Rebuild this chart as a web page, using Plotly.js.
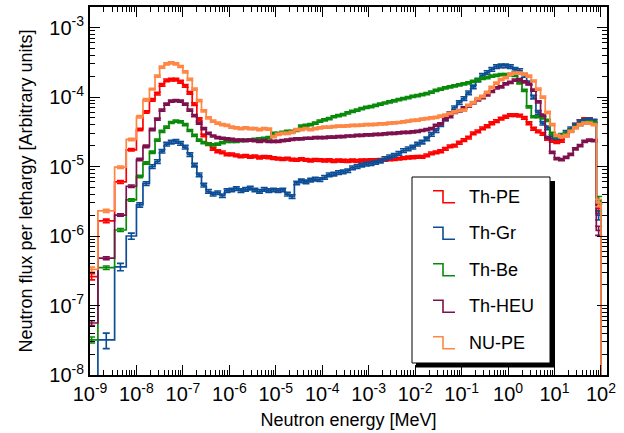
<!DOCTYPE html>
<html><head><meta charset="utf-8">
<script src="https://cdn.plot.ly/plotly-3.0.1.min.js"></script>
<style>html,body{margin:0;padding:0;background:#fff}#chart{width:624px;height:433px}</style>
</head><body><div id="chart"></div>
<script>
// ---- data ----
const seriesNames  = ['Th-PE', 'Th-Gr', 'Th-Be', 'Th-HEU', 'NU-PE'];
const seriesColors = ['#ff0000', '#0c4d96', '#0a8a0a', '#7e104e', '#ff8745'];

// bin edges, log10(E / MeV)
const logEdges = [-9.1, -8.83, -8.47, -8.22, -8.0, -7.86, -7.72,
  -7.6,-7.5,-7.4,-7.3,-7.2,-7.1,-7.0,-6.9,-6.8,-6.7,-6.6,-6.5,-6.4,-6.3,-6.2,-6.1,
  -6.0,-5.9,-5.8,-5.7,-5.6,-5.5,-5.4,-5.3,-5.2,-5.1,
  -5.0,-4.9,-4.8,-4.7,-4.6,-4.5,-4.4,-4.3,-4.2,-4.1,
  -4.0,-3.9,-3.8,-3.7,-3.6,-3.5,-3.4,-3.3,-3.2,-3.1,
  -3.0,-2.9,-2.8,-2.7,-2.6,-2.5,-2.4,-2.3,-2.2,-2.1,
  -2.0,-1.9,-1.8,-1.7,-1.6,-1.5,-1.4,-1.3,-1.2,-1.1,
  -1.0,-0.9,-0.8,-0.7,-0.6,-0.5,-0.4,-0.3,-0.2,-0.1,
  0.0,0.1,0.2,0.3,0.4,0.5,0.6,0.7,0.8,0.9,
  1.0,1.1,1.2,1.3,1.4,1.5,1.6,1.7,1.8,1.9,2.0];

const fluxThPE = [2.6e-7,1.65e-6,6.0e-6,1.74e-5,3.4e-5,6.1e-5,9.1e-5,
  1.12e-4,1.5e-4,1.74e-4,1.78e-4,1.78e-4,1.66e-4,1.45e-4,1.15e-4,7.9e-5,4.8e-5,2.8e-5,2.1e-5,1.8e-5,1.66e-5,1.6e-5,1.5e-5,
  1.5e-5,1.45e-5,1.4e-5,1.42e-5,1.38e-5,1.4e-5,1.35e-5,1.38e-5,1.36e-5,1.32e-5,
  1.3e-5,1.28e-5,1.3e-5,1.26e-5,1.25e-5,1.28e-5,1.25e-5,1.22e-5,1.25e-5,1.24e-5,
  1.22e-5,1.23e-5,1.2e-5,1.22e-5,1.21e-5,1.2e-5,1.22e-5,1.2e-5,1.22e-5,1.22e-5,
  1.23e-5,1.24e-5,1.25e-5,1.25e-5,1.27e-5,1.28e-5,1.3e-5,1.32e-5,1.35e-5,1.36e-5,
  1.38e-5,1.38e-5,1.45e-5,1.55e-5,1.6e-5,1.66e-5,1.8e-5,1.95e-5,2.0e-5,2.2e-5,
  2.4e-5,2.6e-5,3.0e-5,3.2e-5,3.55e-5,3.8e-5,4.2e-5,4.5e-5,4.9e-5,5.2e-5,
  5.5e-5,5.5e-5,5.4e-5,5.0e-5,4.2e-5,3.5e-5,3.2e-5,2.95e-5,2.5e-5,2.35e-5,
  2.25e-5,2.35e-5,2.8e-5,3.3e-5,4.0e-5,4.5e-5,4.8e-5,4.8e-5,4.5e-5,2.5e-6];

const fluxThGr = [5e-9,3.2e-8,3.6e-7,1.0e-6,2.8e-6,5.7e-6,1.0e-5,
  1.18e-5,1.66e-5,2.1e-5,2.25e-5,2.3e-5,2.15e-5,1.9e-5,1.48e-5,1.05e-5,7.6e-6,5.4e-6,4.4e-6,4.0e-6,4.2e-6,3.8e-6,4.5e-6,
  4.6e-6,4.8e-6,4.5e-6,4.7e-6,4.9e-6,4.6e-6,4.4e-6,4.7e-6,4.5e-6,4.6e-6,
  4.5e-6,4.6e-6,4.0e-6,3.7e-6,5.8e-6,6.2e-6,6.0e-6,6.4e-6,6.6e-6,6.5e-6,
  7.0e-6,7.6e-6,7.8e-6,8.2e-6,8.4e-6,8.7e-6,9.6e-6,1.0e-5,1.05e-5,1.08e-5,
  1.1e-5,1.15e-5,1.2e-5,1.3e-5,1.38e-5,1.45e-5,1.55e-5,1.7e-5,1.8e-5,1.9e-5,
  2.1e-5,2.25e-5,2.5e-5,2.9e-5,3.3e-5,4.0e-5,4.8e-5,5.8e-5,7.0e-5,8.3e-5,
  9.5e-5,1.15e-4,1.4e-4,1.75e-4,2.05e-4,2.25e-4,2.5e-4,2.75e-4,2.8e-4,2.8e-4,
  2.75e-4,2.5e-4,2.4e-4,2.05e-4,1.6e-4,1.0e-4,6.0e-5,4.2e-5,3.6e-5,2.7e-5,
  2.6e-5,2.8e-5,3.1e-5,3.5e-5,3.9e-5,4.4e-5,4.6e-5,4.7e-5,4.5e-5,2.0e-6];

const fluxThBe = [3.2e-8,3.5e-7,1.22e-6,3.3e-6,7.2e-6,1.12e-5,1.6e-5,
  2.4e-5,3.2e-5,3.7e-5,4.3e-5,4.5e-5,4.4e-5,4.0e-5,3.3e-5,2.8e-5,2.4e-5,2.2e-5,2.1e-5,2.05e-5,2.1e-5,2.2e-5,2.3e-5,
  2.3e-5,2.3e-5,2.35e-5,2.4e-5,2.4e-5,2.45e-5,2.5e-5,2.55e-5,2.6e-5,3.0e-5,
  3.0e-5,3.1e-5,3.2e-5,3.2e-5,3.3e-5,3.8e-5,3.9e-5,4.0e-5,4.2e-5,4.5e-5,
  4.7e-5,4.9e-5,5.2e-5,5.4e-5,5.6e-5,5.9e-5,6.2e-5,6.5e-5,6.8e-5,7.1e-5,
  7.3e-5,7.6e-5,7.9e-5,8.2e-5,8.5e-5,8.8e-5,9.2e-5,9.5e-5,9.8e-5,1.02e-4,
  1.05e-4,1.08e-4,1.12e-4,1.18e-4,1.25e-4,1.3e-4,1.35e-4,1.4e-4,1.45e-4,1.5e-4,
  1.55e-4,1.6e-4,1.68e-4,1.75e-4,1.85e-4,1.9e-4,2.0e-4,2.05e-4,2.1e-4,2.1e-4,
  2.1e-4,2.05e-4,1.6e-4,1.25e-4,7.2e-5,5.2e-5,5.2e-5,5.0e-5,4.6e-5,3.0e-5,
  2.7e-5,2.8e-5,3.0e-5,3.3e-5,3.7e-5,4.0e-5,4.3e-5,4.4e-5,4.3e-5,3.3e-6];

const fluxThHEU = [5.6e-8,4.8e-7,2.0e-6,5.2e-6,1.26e-5,1.95e-5,3.4e-5,
  4.8e-5,6.5e-5,7.9e-5,8.7e-5,8.9e-5,8.7e-5,7.9e-5,6.5e-5,5.4e-5,4.2e-5,3.5e-5,3.0e-5,2.75e-5,2.6e-5,2.55e-5,2.5e-5,
  2.45e-5,2.4e-5,2.4e-5,2.35e-5,2.4e-5,2.35e-5,2.3e-5,2.35e-5,2.3e-5,2.3e-5,
  2.3e-5,2.35e-5,2.4e-5,2.45e-5,2.5e-5,2.5e-5,2.55e-5,2.55e-5,2.6e-5,2.6e-5,
  2.6e-5,2.65e-5,2.65e-5,2.7e-5,2.7e-5,2.75e-5,2.75e-5,2.8e-5,2.8e-5,2.85e-5,
  2.85e-5,2.9e-5,2.9e-5,2.95e-5,3.0e-5,3.0e-5,3.05e-5,3.1e-5,3.1e-5,3.15e-5,
  3.2e-5,3.3e-5,3.4e-5,3.5e-5,3.9e-5,4.1e-5,4.8e-5,5.2e-5,6.0e-5,6.3e-5,
  7.0e-5,7.4e-5,8.2e-5,9.1e-5,9.8e-5,1.07e-4,1.2e-4,1.35e-4,1.4e-4,1.55e-4,
  1.62e-4,1.75e-4,1.78e-4,1.65e-4,1.55e-4,1.26e-4,8.5e-5,5.5e-5,2.6e-5,1.6e-5,
  1.3e-5,1.26e-5,1.35e-5,1.5e-5,1.8e-5,2.0e-5,2.3e-5,2.4e-5,2.35e-5,1.2e-6];

const fluxNUPE = [3.3e-7,2.3e-6,9.8e-6,2.45e-5,5.2e-5,9.1e-5,1.3e-4,
  2.0e-4,2.7e-4,3.0e-4,3.1e-4,3.0e-4,2.75e-4,2.3e-4,1.8e-4,1.3e-4,8.9e-5,6.3e-5,5.0e-5,4.5e-5,4.2e-5,4.0e-5,3.9e-5,
  3.7e-5,3.6e-5,3.5e-5,3.6e-5,3.5e-5,3.5e-5,3.4e-5,3.5e-5,3.45e-5,2.7e-5,
  2.9e-5,3.0e-5,3.0e-5,3.1e-5,3.4e-5,3.4e-5,3.5e-5,3.4e-5,3.5e-5,3.6e-5,
  3.7e-5,3.7e-5,3.75e-5,3.8e-5,3.8e-5,3.85e-5,3.9e-5,3.9e-5,3.95e-5,4.0e-5,
  4.0e-5,4.05e-5,4.1e-5,4.1e-5,4.2e-5,4.25e-5,4.3e-5,4.4e-5,4.5e-5,4.6e-5,
  4.65e-5,4.8e-5,4.9e-5,5.0e-5,5.1e-5,5.3e-5,5.5e-5,5.8e-5,6.1e-5,6.4e-5,
  6.5e-5,7.6e-5,8.3e-5,9.5e-5,1.02e-4,1.17e-4,1.38e-4,1.58e-4,1.78e-4,1.9e-4,
  2.14e-4,2.2e-4,2.2e-4,2.14e-4,2.0e-4,1.7e-4,1.3e-4,1.0e-4,6.0e-5,4.0e-5,
  2.8e-5,2.7e-5,2.8e-5,3.2e-5,3.6e-5,4.0e-5,4.2e-5,4.2e-5,4.0e-5,3.0e-6];

// relative statistical errors: first seven bins, the bulk, and the last bin
const relErrLow = [
  [0.10, 0.06, 0.05, 0.04, 0.04, 0.04, 0.04],   // Th-PE
  [0.30, 0.25, 0.12, 0.10, 0.07, 0.06, 0.06],   // Th-Gr
  [0.10, 0.06, 0.05, 0.04, 0.04, 0.04, 0.04],   // Th-Be
  [0.08, 0.05, 0.04, 0.04, 0.04, 0.04, 0.04],   // Th-HEU
  [0.08, 0.05, 0.04, 0.04, 0.04, 0.04, 0.03]    // NU-PE
];
const relErrBulk = [0.045, 0.06, 0.035, 0.035, 0.035];
const relErrLast = [0.15, 0.15, 0.12, 0.15, 0.12];

const xTickVals = [1e-9,1e-8,1e-7,1e-6,1e-5,1e-4,1e-3,1e-2,1e-1,1e0,1e1,1e2];
const xTickText = ['10<sup>-9</sup>','10<sup>-8</sup>','10<sup>-7</sup>','10<sup>-6</sup>','10<sup>-5</sup>',
  '10<sup>-4</sup>','10<sup>-3</sup>','10<sup>-2</sup>','10<sup>-1</sup>','10<sup>0</sup>','10<sup>1</sup>','10<sup>2</sup>'];
const yTickVals = [1e-8,1e-7,1e-6,1e-5,1e-4,1e-3];
const yTickText = ['10<sup>-8</sup>','10<sup>-7</sup>','10<sup>-6</sup>','10<sup>-5</sup>','10<sup>-4</sup>','10<sup>-3</sup>'];

const xTitle = 'Neutron energy [MeV]';
const yTitle = 'Neutron flux per lethargy [Arbitrary units]';

// ---- build ----
const allFlux = [fluxThPE, fluxThGr, fluxThBe, fluxThHEU, fluxNUPE];
const edgesE = logEdges.map(v => Math.pow(10, v));
const centersE = logEdges.slice(0, -1).map((v, i) => Math.pow(10, (v + logEdges[i + 1]) / 2));
const nBins = centersE.length;
allFlux.forEach((f, k) => { if (f.length !== nBins) console.warn('length mismatch', seriesNames[k], f.length, nBins); });

const FONT = 'Liberation Sans, Arial, Helvetica, sans-serif';
const traces = [];
allFlux.forEach((flux, k) => {
  const col = seriesColors[k];
  traces.push({
    type: 'scatter', mode: 'lines', x: edgesE, y: flux.concat([1e-12]),
    line: { shape: 'hv', color: col, width: 1.7 }, hoverinfo: 'skip', showlegend: false
  });
  const err = flux.map((v, i) => {
    let r = relErrBulk[k];
    if (i < relErrLow[k].length) r = relErrLow[k][i];
    if (i === nBins - 1) r = relErrLast[k];
    return v * r;
  });
  traces.push({
    type: 'scatter', mode: 'markers', x: centersE, y: flux,
    marker: { size: 1, color: col, opacity: 0 },
    error_y: { type: 'data', array: err, visible: true, color: col, thickness: 1.6, width: 3.5 },
    hoverinfo: 'skip', showlegend: false
  });
});

// plot-area pixel frame
const PL = 90, PR = 607, PT = 7, PB = 375;
const px = x => (x - PL) / (PR - PL);
const py = y => (PB - y) / (PB - PT);

const shapes = [];
const annotations = [];
shapes.push({ type: 'rect', xref: 'paper', yref: 'paper', x0: px(416), x1: px(555), y0: py(367.5), y1: py(181),
  fillcolor: '#000', line: { width: 0 }, layer: 'above' });
shapes.push({ type: 'rect', xref: 'paper', yref: 'paper', x0: px(412), x1: px(550), y0: py(363), y1: py(177),
  fillcolor: '#fff', line: { color: '#000', width: 1 }, layer: 'above' });
seriesNames.forEach((name, k) => {
  const yc = 196.7 + k * 36.5;
  shapes.push({ type: 'path', xref: 'paper', yref: 'paper', layer: 'above',
    path: `M ${px(433)} ${py(yc - 6)} L ${px(443)} ${py(yc - 6)} L ${px(443)} ${py(yc + 6)} L ${px(455)} ${py(yc + 6)}`,
    line: { color: seriesColors[k], width: 1.6 } });
  annotations.push({ xref: 'paper', yref: 'paper', x: px(467), y: py(yc), xanchor: 'left', yanchor: 'middle',
    text: name, showarrow: false, font: { family: FONT, size: 18, color: '#000' } });
});

function minorVals(lo, hi) {
  const out = [];
  for (let d = lo; d <= hi; d++) for (let m = 2; m <= 9; m++) out.push(m * Math.pow(10, d));
  return out;
}

const axisCommon = {
  type: 'log', showgrid: false, zeroline: false, showline: true, linecolor: '#000', linewidth: 2,
  mirror: 'allticks', ticks: 'inside', ticklen: 10, tickwidth: 1, tickcolor: '#000',
  tickmode: 'array', tickfont: { family: FONT, size: 20, color: '#000' }
};

const layout = {
  width: 624, height: 433,
  margin: { l: PL, r: 624 - PR, t: PT, b: 433 - PB },
  paper_bgcolor: '#fff', plot_bgcolor: '#fff',
  showlegend: false,
  font: { family: FONT, color: '#000' },
  xaxis: Object.assign({}, axisCommon, {
    range: [-9, 2.13], tickvals: xTickVals, ticktext: xTickText,
    minor: { ticks: 'inside', ticklen: 5, tickwidth: 1, tickcolor: '#000', tickmode: 'array', tickvals: minorVals(-9, 2), showgrid: false },
    title: { text: xTitle, font: { family: FONT, size: 18, color: '#000' }, standoff: 9 }
  }),
  yaxis: Object.assign({}, axisCommon, {
    range: [-8, -2.705], tickvals: yTickVals, ticktext: yTickText,
    minor: { ticks: 'inside', ticklen: 5, tickwidth: 1, tickcolor: '#000', tickmode: 'array', tickvals: minorVals(-8, -3), showgrid: false },
    title: { text: yTitle, font: { family: FONT, size: 18, color: '#000' }, standoff: 12 }
  }),
  shapes: shapes,
  annotations: annotations
};

Plotly.newPlot('chart', traces, layout, { staticPlot: true, displayModeBar: false });
</script>
</body></html>
